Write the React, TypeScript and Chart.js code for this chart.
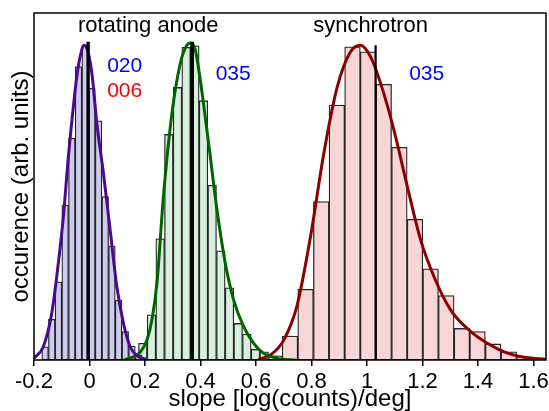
import React, { useEffect, useRef } from "react";
import { Chart, registerables } from "chart.js";

Chart.register(...registerables);

// ---- axis ----
const X_MIN = -0.2;
const X_MAX = 1.645;
const Y_MAX = 1.1;
const xTickValues = [-0.2, 0, 0.2, 0.4, 0.6, 0.8, 1, 1.2, 1.4, 1.6];

// ---- histograms (bin grid + heights, arb. units) ----
const purpleBinStart = -0.172;
const purpleBinWidth = 0.02407;
const purpleCounts = [0.042, 0.129, 0.248, 0.491, 0.703, 0.930, 0.998, 0.861, 0.758, 0.518, 0.361, 0.190, 0.090, 0.044, 0.016];

const greenBinStart = 0.1453;
const greenBinWidth = 0.03123;
const greenCounts = [0.012, 0.053, 0.143, 0.384, 0.715, 0.864, 0.991, 0.996, 0.822, 0.554, 0.346, 0.229, 0.116, 0.082, 0.034, 0.026, 0.013];

const redBinStart = 0.6379;
const redBinWidth = 0.05632;
const redCounts = [0.013, 0.076, 0.224, 0.502, 0.808, 0.993, 0.977, 0.874, 0.674, 0.446, 0.289, 0.204, 0.100, 0.090, 0.051, 0.026, 0.010];

// ---- fitted curves ----
const purpleCurveX = [-0.2, -0.1664, -0.1361, -0.1123, -0.0942, -0.0762, -0.0581, -0.0458, -0.0339, -0.0195, -0.0051, 0.0094, 0.0264, 0.0502, 0.0744, 0.0986, 0.1224, 0.1466, 0.1718, 0.2043];
const purpleCurveY = [0.006, 0.042, 0.148, 0.307, 0.454, 0.644, 0.803, 0.898, 0.961, 0.998, 0.976, 0.903, 0.750, 0.592, 0.412, 0.232, 0.116, 0.042, 0.013, 0.002];

const greenCurveX = [0.1249, 0.1574, 0.1827, 0.2069, 0.2249, 0.2430, 0.2668, 0.2971, 0.3271, 0.3487, 0.3632, 0.3812, 0.3993, 0.4292, 0.4596, 0.4895, 0.5195, 0.5556, 0.5917, 0.6278, 0.6762, 0.7422];
const greenCurveY = [0.0, 0.010, 0.025, 0.063, 0.127, 0.244, 0.523, 0.782, 0.940, 0.995, 1.005, 0.983, 0.887, 0.687, 0.475, 0.306, 0.190, 0.106, 0.053, 0.021, 0.005, 0.0];

const redCurveX = [0.6087, 0.6520, 0.7000, 0.7484, 0.7964, 0.8444, 0.8928, 0.9408, 0.9769, 1.0130, 1.0491, 1.0971, 1.1455, 1.1935, 1.2415, 1.3018, 1.3740, 1.4343, 1.4942, 1.5664, 1.6484];
const redCurveY = [0.002, 0.016, 0.063, 0.174, 0.391, 0.655, 0.866, 0.977, 0.998, 0.961, 0.877, 0.729, 0.549, 0.380, 0.264, 0.158, 0.090, 0.053, 0.026, 0.009, 0.002];

// ---- mean markers (x position, height) ----
const markerX = [-0.005, 0.370, 1.031];
const markerTop = [1.009, 1.009, 0.998];
const markerWidth = [3.4, 3.6, 2.2];

// ---- annotations ----
const annotationTexts = ["rotating anode", "synchrotron", "020", "006", "035", "035"];
const annotationX = [0.2116, 1.013, 0.1267, 0.1267, 0.5177, 1.215];
const annotationY = [1.059, 1.059, 0.930, 0.851, 0.906, 0.906];
const annotationColors = ["#000000", "#000000", "#0000ff", "#ff0000", "#0000ff", "#0000ff"];
const annotationSizes = [22, 22, 21, 21, 21, 21];

const FONT = "'Liberation Sans', Arial, Helvetica, sans-serif";

function histData(start: number, width: number, counts: number[]) {
  return counts.map((c, i) => ({ x: start + (i + 0.5) * width, y: c }));
}
function curveData(xs: number[], ys: number[]) {
  return xs.map((x, i) => ({ x, y: ys[i] }));
}

const boxAndText = {
  id: "boxAndText",
  afterDatasetsDraw(chart: any) {
    const { ctx, chartArea, scales } = chart;
    ctx.save();
    ctx.strokeStyle = "#000";
    ctx.lineWidth = 1.5;
    ctx.strokeRect(chartArea.left, chartArea.top, chartArea.right - chartArea.left, chartArea.bottom - chartArea.top);
    ctx.textAlign = "center";
    ctx.textBaseline = "middle";
    annotationTexts.forEach((t, i) => {
      ctx.font = `${annotationSizes[i]}px ${FONT}`;
      ctx.fillStyle = annotationColors[i];
      ctx.fillText(t, scales.x.getPixelForValue(annotationX[i]), scales.y.getPixelForValue(annotationY[i]));
    });
    ctx.restore();
  },
};

function hiddenX() {
  return {
    type: "linear",
    display: false,
    min: X_MIN,
    max: X_MAX,
    offset: false,
    ticks: { stepSize: 1, includeBounds: false },
  };
}

function barSet(data: any[], axis: string, fill: string) {
  return {
    type: "bar",
    data,
    xAxisID: axis,
    yAxisID: "y",
    backgroundColor: fill,
    borderColor: "#262626",
    borderWidth: 1.3,
    borderSkipped: false,
    barPercentage: 1,
    categoryPercentage: 1,
    grouped: false,
    order: 3,
  };
}

function curveSet(data: any[], color: string) {
  return {
    type: "line",
    data,
    xAxisID: "x",
    yAxisID: "y",
    borderColor: color,
    borderWidth: 3,
    pointRadius: 0,
    fill: false,
    cubicInterpolationMode: "monotone",
    order: 2,
  };
}

function markerSet(i: number) {
  return {
    type: "line",
    data: [
      { x: markerX[i], y: 0 },
      { x: markerX[i], y: markerTop[i] },
    ],
    xAxisID: "x",
    yAxisID: "y",
    borderColor: "#000",
    borderWidth: markerWidth[i],
    pointRadius: 0,
    fill: false,
    order: 1,
  };
}

export default function App() {
  const canvasRef = useRef<HTMLCanvasElement | null>(null);

  useEffect(() => {
    if (!canvasRef.current) return;
    const chart = new Chart(canvasRef.current, {
      type: "line",
      data: {
        datasets: [
          markerSet(0),
          markerSet(1),
          markerSet(2),
          curveSet(curveData(purpleCurveX, purpleCurveY), "#4b0a8c"),
          curveSet(curveData(greenCurveX, greenCurveY), "#006400"),
          curveSet(curveData(redCurveX, redCurveY), "#8b0000"),
          barSet(histData(purpleBinStart, purpleBinWidth, purpleCounts), "xp", "rgb(206,204,238)"),
          barSet(histData(greenBinStart, greenBinWidth, greenCounts), "xg", "rgb(216,238,222)"),
          barSet(histData(redBinStart, redBinWidth, redCounts), "xr", "rgb(249,214,214)"),
        ] as any,
      },
      options: {
        responsive: false,
        animation: false,
        devicePixelRatio: 1,
        events: [],
        layout: { padding: { top: 13, right: 3, left: 0, bottom: 0 } },
        plugins: {
          legend: { display: false },
          tooltip: { enabled: false },
        },
        scales: {
          x: {
            type: "linear",
            position: "bottom",
            min: X_MIN,
            max: X_MAX,
            offset: false,
            afterBuildTicks: (axis: any) => {
              axis.ticks = xTickValues.map((v) => ({ value: v }));
            },
            afterFit: (axis: any) => {
              axis.height = 51;
              axis.paddingLeft = 0;
              axis.paddingRight = 0;
            },
            ticks: {
              color: "#000",
              padding: 3,
              maxRotation: 0,
              autoSkip: false,
              font: { family: FONT, size: 22 },
              callback: (v: any) => String(Math.round(Number(v) * 10) / 10),
            },
            grid: {
              display: true,
              drawOnChartArea: false,
              drawTicks: true,
              tickLength: 6,
              color: "#000",
              lineWidth: 1.5,
            },
            border: { display: false },
            title: {
              display: true,
              text: "slope [log(counts)/deg]",
              color: "#000",
              font: { family: FONT, size: 24, lineHeight: 1 },
              padding: { top: 0, bottom: 0 },
            },
          },
          xp: hiddenX(),
          xg: hiddenX(),
          xr: hiddenX(),
          y: {
            type: "linear",
            min: 0,
            max: Y_MAX,
            ticks: { display: false },
            grid: { display: false },
            border: { display: false },
            afterFit: (axis: any) => {
              axis.width = 34;
              axis.paddingTop = 0;
              axis.paddingBottom = 0;
            },
            title: {
              display: true,
              text: "occurence (arb. units)",
              color: "#000",
              font: { family: FONT, size: 24, lineHeight: 1 },
              padding: { top: 9, bottom: 0 },
            },
          },
        } as any,
      },
      plugins: [boxAndText],
    } as any);
    return () => chart.destroy();
  }, []);

  return (
    <div style={{ position: "absolute", left: 0, top: 0, width: 549, height: 411, background: "#fff" }}>
      <canvas ref={canvasRef} width={549} height={411} style={{ display: "block", width: 549, height: 411 }} />
    </div>
  );
}
